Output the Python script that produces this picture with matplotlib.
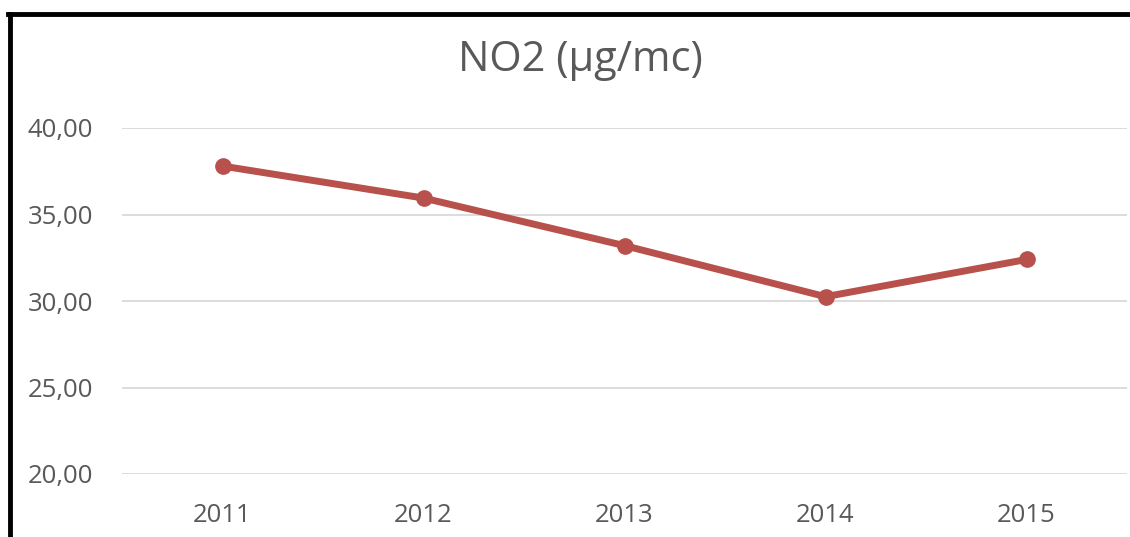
import matplotlib
matplotlib.use('Agg')
import matplotlib.pyplot as plt
from matplotlib.lines import Line2D
from matplotlib.ticker import FuncFormatter

years = ['2011', '2012', '2013', '2014', '2015']
no2 = [37.8, 35.95, 33.2, 30.25, 32.4]
y_ticks = [20, 25, 30, 35, 40]

plt.rcParams['font.family'] = ['Open Sans', 'DejaVu Sans']

fig = plt.figure(figsize=(11.3, 5.37), dpi=100)
ax = fig.add_axes([122 / 1130, 1 - 474 / 537, (1127 - 122) / 1130, (474 - 128) / 537])

ax.plot(range(len(years)), no2, color='#b8504b', lw=5, marker='o', ms=11,
        solid_capstyle='round', zorder=3)

ax.set_xlim(-0.5, len(years) - 0.5)
ax.set_ylim(20, 40)
ax.set_yticks(y_ticks)
ax.yaxis.set_major_formatter(FuncFormatter(lambda v, p: f'{v:.2f}'.replace('.', ',')))
ax.set_xticks(range(len(years)))
ax.set_xticklabels(years)
ax.grid(axis='y', color='#d9d9d9', lw=1.3)
ax.set_axisbelow(True)
for s in ax.spines.values():
    s.set_visible(False)
ax.tick_params(length=0, labelsize=18.5, labelcolor='#595959')
ax.tick_params(axis='y', pad=21)
ax.tick_params(axis='x', pad=21)

fig.text(0.514, 1 - 60 / 537, 'NO2 (µg/mc)', ha='center', va='center',
         fontsize=30, color='#595959')

# black frame (only left and top edges are inside the picture)
fig.add_artist(Line2D([9.5 / 1130, 9.5 / 1130], [0, 1 - 13.5 / 537], color='black', lw=3.5))
fig.add_artist(Line2D([8 / 1130, 1], [1 - 13.5 / 537, 1 - 13.5 / 537], color='black', lw=3.5))

fig.savefig('out.png', dpi=100)
